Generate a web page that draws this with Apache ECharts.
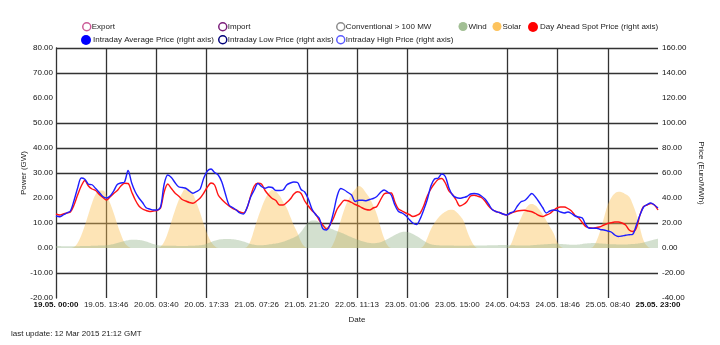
<!DOCTYPE html>
<html>
<head>
<meta charset="utf-8">
<script src="https://cdn.jsdelivr.net/npm/echarts@6/dist/echarts.min.js"></script>
<style>
html,body{margin:0;padding:0;background:#fff;}
#chart{width:720px;height:345px;}
</style>
</head>
<body>
<div id="chart"></div>
<script>
// ---- data (hourly, 19.05. 00:00 to 25.05. 23:00) ----
const timeLabels = ['19.05. 00:00','19.05. 13:46','20.05. 03:40','20.05. 17:33','21.05. 07:26','21.05. 21:20','22.05. 11:13','23.05. 01:06','23.05. 15:00','24.05. 04:53','24.05. 18:46','25.05. 08:40','25.05. 23:00'];
const powerTicks = [-20, 80, 10];
const priceTicks = [-40, 160, 20];

const solarGW = [
 0,0,0,0,
 0,0.4,2,5,9,13.5,18,21.5,23,23,21,18,14,9.5,5.5,2.2,0.6,0,
 0,0,0,0,0,0,
 0,0.5,2.5,6,10.5,15,19,22,23.8,23.5,21.5,18,14,9.5,5.5,2.5,0.8,0,
 0,0,0,0,0,0,
 0,0.5,3,7.5,12,16,19.5,22,23.2,22.5,21,18.5,16,12.5,9,6,2.5,0.5,0,
 0,0,0,0,0,
 0,2,6,11,15.5,19,21.5,23.5,24.8,24,22,20,17,13.5,8.5,4,1,0,
 0,0,0,0,0,0,0,
 0,1,4,7.5,10,12,13.5,14.5,15.2,15.3,14.5,13,11,7,3.5,1,0,
 0,0,0,0,0,0,0,
 0,1,4.5,8.5,12,15,17,17.6,17,15.5,13.5,11,8.5,6,2.5,0.5,0,
 0,0,0,0,0,0,
 0,0.5,3,7,12,17,20,21.8,22.5,22.3,21.5,20.5,17.5,13.5,8,3,0.8,0,
 0,0
];
const windGW = [
 0.8,0.8,0.7,0.7,0.7,0.7,0.7,0.8,0.8,0.8,0.9,0.9,1,1,1.1,1.3,1.6,2,
 2.4,2.8,3.1,3.3,3.3,3.2,3,2.6,2.1,1.6,1.2,1,
 0.9,0.9,0.9,0.9,0.8,0.8,0.8,0.9,0.9,1,1.1,
 1.3,1.8,2.4,2.9,3.3,3.5,3.6,3.6,3.5,3.3,3,2.6,2.1,1.6,1.3,1.1,1.1,
 1.2,1.4,1.6,1.8,2.1,2.5,3,3.6,4.2,5,6.5,8.5,10.2,11,
 11,10.4,9.4,8.6,7.9,7.3,6.7,6.2,5.6,4.9,4.3,3.7,3.2,2.7,2.3,2,1.9,
 2,2.3,2.9,3.6,4.4,5.2,5.9,6.4,6.5,6.2,5.6,4.8,3.9,2.9,2.1,1.5,1.2,
 1.1,1,1,1,1,0.9,0.9,0.9,0.9,1,1,1,1,1,1.1,1.1,1.1,1.2,1.2,1.2,1.1,1.1,1,1,1,1,1.1,1.2,1.3,1.4,
 1.5,1.6,1.7,1.7,1.6,1.5,1.4,1.3,1.3,1.4,1.6,1.8,1.9,2,1.9,1.8,1.7,1.6,1.5,1.5,1.4,1.4,1.4,1.5,1.6,1.7,1.9,2.2,2.6,3,3.4,3.7
];
const dayAheadPrice = [
 27.2,26.4,27.2,28,28.8,34.4,42.4,49.6,54,49.6,47.2,46,42.8,40.4,38.4,40.8,43.6,46,49.6,51.8,51.6,44.8,38.4,33.6,
 31.2,30,29.2,29.6,30,32,44.8,51.2,47.6,44,41.6,38.8,37.6,36.4,35.8,37.6,40,44,48.8,52,50.4,42.4,38.8,36,
 33.6,31.6,30.4,28.8,28,32,41.6,49.6,51.8,51.2,46,42.4,39.6,38,34.4,34.4,36.4,39.2,43.2,45,43.6,37.6,33.6,30,
 27.2,22.4,18.4,15.2,18.4,24,31.2,35.2,38.2,37.8,36.4,34.8,33.6,32,30.8,30.4,32,33.2,38.4,43.2,44,44,36.8,31.2,
 29.6,28,26.8,25.2,26,27.8,33.6,41.6,47.2,51.6,54.8,55.6,52,45.6,42.8,38.4,33.6,34.8,37.2,41.6,42.2,41.4,40.4,37.6,
 33.6,30.8,29.2,28.4,27.2,26.4,27.6,28.8,29.6,30,30.2,29.6,29,27.6,26,25.2,26.4,27.6,30,32,32.8,32.8,31.6,29.6,
 26,24,20.4,17,16.2,15.8,16.4,17,18.4,19.6,20.2,20.8,20.8,20,18.4,14.4,13.2,16,26.4,33.2,34.4,35.6,34.4,30.4
];
const intradayAvgPrice = [
 25.6,25,26.4,28,29.6,38,48,56,55,51,50.6,47.6,44.4,41.2,40,41.6,45.6,50.8,52,52.8,62,52,44.8,40,
 36.4,32.2,31.2,30.4,30.4,32.8,51,58.4,56.4,52.4,49,48.4,47.8,45.6,43.8,45.2,47.2,56,61.6,63.2,60.4,58.4,52.8,43.2,
 34.4,32.4,30.4,28,27.2,32.4,40.8,46.4,51.6,49.2,47.8,48.8,48.4,46,46,46.4,50.4,52,52.8,52.4,46.8,44.8,39.2,31.2,
 26.8,24,15.5,14.4,18.4,28.8,41.6,47.6,46.4,44.4,42.4,37.2,38.2,38.2,37.8,38.8,39.6,41.2,44.4,46.4,44.8,42.4,34.4,29.2,
 28,26,22.8,20,18.8,23.2,30.4,38.8,49.6,55.2,55.8,59.2,57.2,48,42.4,40.4,39.8,40.4,41.2,43.2,43.6,43.2,41.6,39.2,
 35.2,30.8,29.2,28.4,27.2,26.4,28,29.2,33.6,37,38,40.8,43.6,40.8,36.8,32.4,28,29.6,30.4,30,28.8,28,28.8,27.6,
 25.6,24.8,24,18.4,15.8,15.8,15.8,14.8,14.4,13.6,12.8,10.4,9.2,9.6,10.2,10.6,11,18.4,26.4,32.8,34.8,36,34.4,32
];

// ---- build ----
const MIN_PER_STEP = 60;               // one data point per hour
const totalMin = (solarGW.length - 1) * MIN_PER_STEP;
const labelStep = totalMin / (timeLabels.length - 1);
const pairs = arr => arr.map((v, i) => [i * MIN_PER_STEP, v]);
const FONT = '"Liberation Sans", Arial, Helvetica, sans-serif';
const LINE = '#333';
const NONE = 'rgba(0,0,0,0)';

const legendItems = [
  {name:'Export', x:86, y:27, fill:'#fff', stroke:'#cc5c98', r:8},
  {name:'Import', x:222, y:27, fill:'#fff', stroke:'#7a1f7a', r:8},
  {name:'Conventional > 100 MW', x:340, y:27, fill:'#fff', stroke:'#8c8c8c', r:8},
  {name:'Wind', x:463, y:27, fill:'#a2bf94', stroke:null, r:9},
  {name:'Solar', x:497, y:27, fill:'#fdc35d', stroke:null, r:9},
  {name:'Day Ahead Spot Price (right axis)', x:533, y:27, fill:'#ff0000', stroke:null, r:10},
  {name:'Intraday Average Price (right axis)', x:86, y:40, fill:'#0000ff', stroke:null, r:10},
  {name:'Intraday Low Price (right axis)', x:222, y:40, fill:'#fff', stroke:'#00007a', r:8},
  {name:'Intraday High Price (right axis)', x:340, y:40, fill:'#fff', stroke:'#5a5aff', r:8}
];

const option = {
  animation: false,
  backgroundColor: '#fff',
  textStyle: {fontFamily: FONT},
  grid: {left:56, right:62, top:48, bottom:47},
  legend: legendItems.map(it => ({
    left: it.x - it.r/2, top: it.y - 5, padding: 0,
    itemWidth: it.r, itemHeight: it.r, itemGap: 0,
    selectedMode: false,
    textStyle: {fontSize: 8, color:'#222', fontFamily: FONT, padding:[0,0,0, it.r > 9 ? -3 : -4]},
    data: [{name: it.name, icon:'circle',
      itemStyle: it.stroke ? {color: it.fill, borderColor: it.stroke, borderWidth: 1.5} : {color: it.fill, borderWidth: 0}}]
  })),
  xAxis: {
    type:'value', min:0, max: totalMin, interval: labelStep,
    name:'Date', nameLocation:'middle', nameGap:18,
    nameTextStyle:{fontSize:8, color:'#222'},
    axisLine:{show:false}, axisTick:{show:false},
    splitLine:{show:true, lineStyle:{color:[NONE, LINE, LINE, LINE], width:1.3}},
    axisLabel:{
      fontSize:8, color:'#222', margin:3,
      formatter: v => {
        const i = Math.round(v / labelStep);
        const t = timeLabels[i] || '';
        return (i === 0 || i === timeLabels.length - 1) ? '{b|' + t + '}' : t;
      },
      rich:{b:{fontWeight:'bold', fontSize:8, color:'#111'}}
    }
  },
  yAxis: [
    {
      type:'value', min: powerTicks[0], max: powerTicks[1], interval: powerTicks[2],
      name:'Power (GW)', nameLocation:'middle', nameGap:28, nameMoveOverlap:false,
      nameTextStyle:{fontSize:8, color:'#222'},
      axisLine:{show:true, lineStyle:{color: LINE, width:1.3}}, axisTick:{show:false},
      splitLine:{show:true, lineStyle:{color:[NONE, LINE, NONE, LINE, NONE, LINE, LINE, LINE, NONE, LINE, LINE], width:1.3}},
      axisLabel:{fontSize:8, color:'#111', margin:3, formatter: v => v.toFixed(2)}
    },
    {
      type:'value', min: priceTicks[0], max: priceTicks[1], interval: priceTicks[2],
      position:'right',
      name:'Price (Euro/MWh)', nameLocation:'middle', nameGap:39, nameRotate:-90, nameMoveOverlap:false,
      nameTextStyle:{fontSize:8, color:'#222'},
      axisLine:{show:false}, axisTick:{show:false},
      splitLine:{show:false},
      axisLabel:{fontSize:8, color:'#111', margin:4, formatter: v => v.toFixed(2)}
    }
  ],
  series: [
    {name:'Export', type:'line', data:[], color:'#cc5c98'},
    {name:'Import', type:'line', data:[], color:'#7a1f7a'},
    {name:'Conventional > 100 MW', type:'line', data:[], color:'#8c8c8c'},
    {name:'Solar', type:'line', yAxisIndex:0, data: pairs(solarGW), smooth:0.4,
     showSymbol:false, symbol:'none', color:'#fdc35d', z:1,
     lineStyle:{width:0}, areaStyle:{color:'rgba(250,190,80,0.6)'}},
    {name:'Wind', type:'line', yAxisIndex:0, data: pairs(windGW), smooth:0.4,
     showSymbol:false, symbol:'none', color:'#a2bf94', z:2,
     lineStyle:{width:0}, areaStyle:{color:'rgba(150,180,140,0.6)'}},
    {name:'Day Ahead Spot Price (right axis)', type:'line', yAxisIndex:1, data: pairs(dayAheadPrice),
     smooth:0.3, showSymbol:false, symbol:'none', color:'#ff0000', z:3, lineStyle:{width:1.4, color:'#ff1414'}},
    {name:'Intraday Average Price (right axis)', type:'line', yAxisIndex:1, data: pairs(intradayAvgPrice),
     smooth:0.3, showSymbol:false, symbol:'none', color:'#0000ff', z:4, lineStyle:{width:1.4, color:'#1e1eff'}},
    {name:'Intraday Low Price (right axis)', type:'line', data:[], color:'#00007a'},
    {name:'Intraday High Price (right axis)', type:'line', data:[], color:'#5a5aff'}
  ],
  graphic: [
    {type:'text', left:11, top:330, style:{text:'last update: 12 Mar 2015 21:12 GMT', fontSize:8, fill:'#222', fontFamily: FONT}}
  ]
};

const chart = echarts.init(document.getElementById('chart'), null, {renderer:'canvas'});
chart.setOption(option);
</script>
</body>
</html>
